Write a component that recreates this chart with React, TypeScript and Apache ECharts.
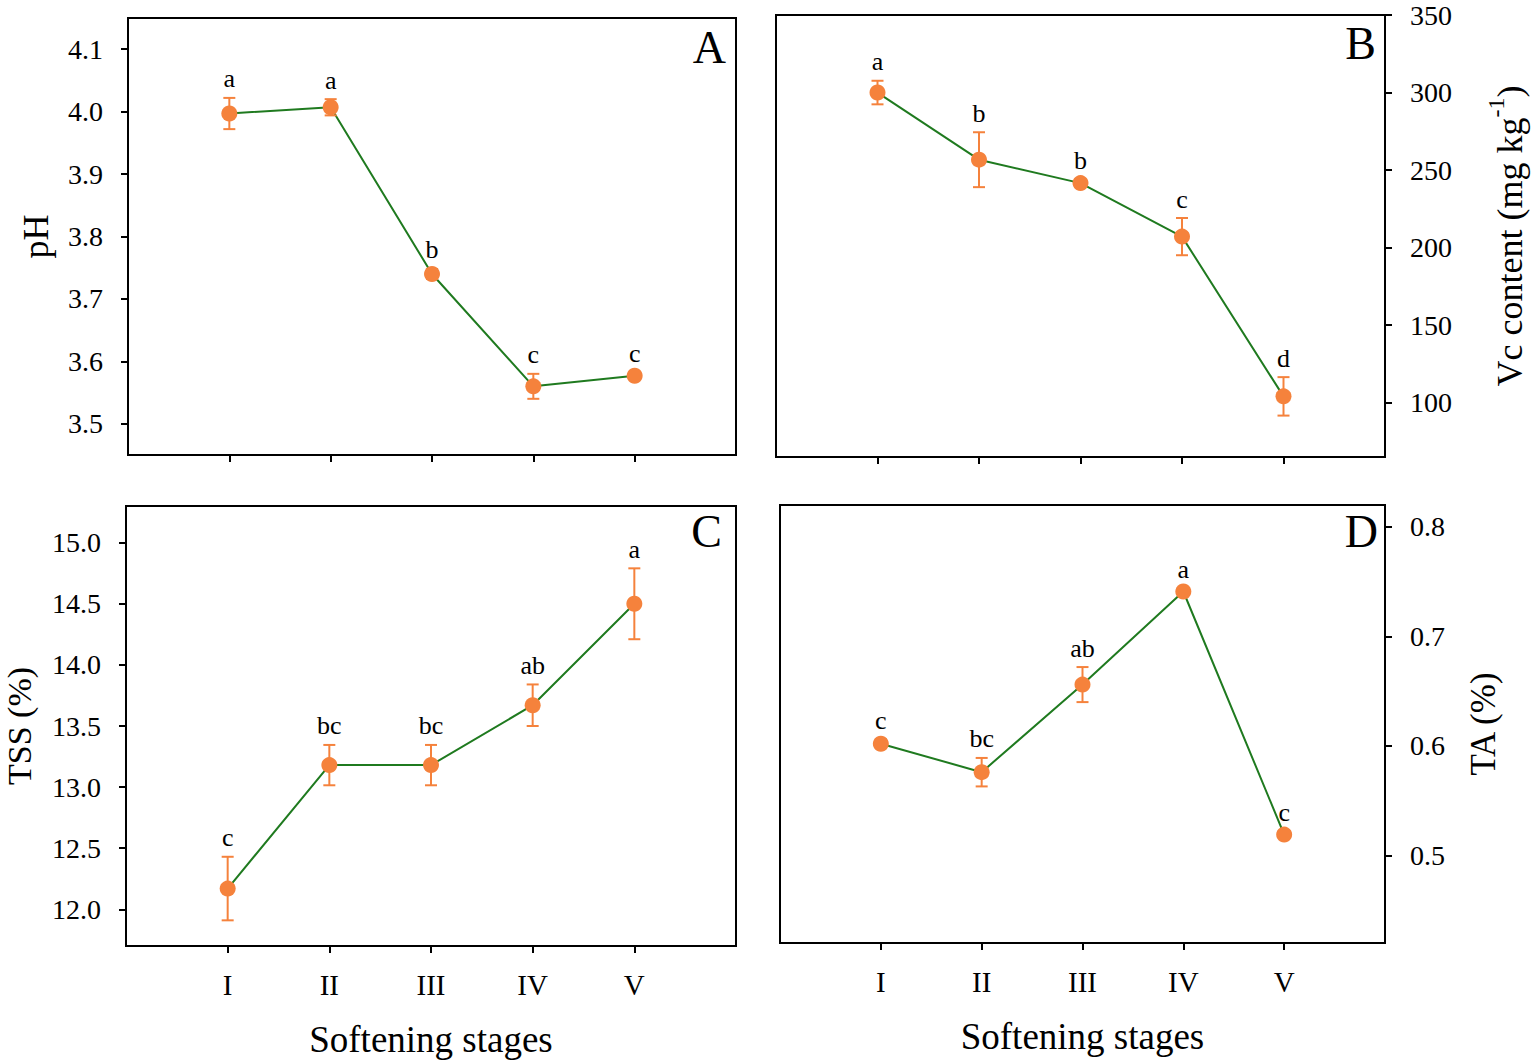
import { useEffect, useRef } from "react"
import * as echarts from "echarts"

// softening stages on the x axis
const stages = ["I", "II", "III", "IV", "V"]
const stagePos = [1, 2, 3, 4, 5]

// A - pH
const phMean = [3.997, 4.007, 3.74, 3.56, 3.577]
const phErr = [0.025, 0.013, 0.008, 0.02, 0.005]
const phLetters = ["a", "a", "b", "c", "c"]
const phTicks = [3.5, 3.6, 3.7, 3.8, 3.9, 4.0, 4.1]

// B - Vc content
const vcMean = [300.0, 256.7, 241.6, 207.1, 104.1]
const vcErr = [7.6, 17.7, 2.5, 12.0, 12.4]
const vcLetters = ["a", "b", "b", "c", "d"]
const vcTicks = [100, 150, 200, 250, 300, 350]

// C - TSS
const tssMean = [12.17, 13.18, 13.18, 13.67, 14.5]
const tssErr = [0.26, 0.165, 0.165, 0.17, 0.29]
const tssLetters = ["c", "bc", "bc", "ab", "a"]
const tssTicks = [12.0, 12.5, 13.0, 13.5, 14.0, 14.5, 15.0]

// D - TA
const taMean = [0.602, 0.576, 0.656, 0.741, 0.519]
const taErr = [0.004, 0.013, 0.016, 0.003, 0.003]
const taLetters = ["c", "bc", "ab", "a", "c"]
const taTicks = [0.5, 0.6, 0.7, 0.8]

const FONT = "'Liberation Serif', 'Times New Roman', serif"
const GREEN = "#1f7a1f"
const ORANGE = "#f5823c"

const panels = [
  { mean: phMean, err: phErr, letters: phLetters, ticks: phTicks, min: 3.45, max: 4.15, digits: 1, side: "left", bottom: false, name: "pH", nameSize: 36, nameGap: 74, tag: "A" },
  { mean: vcMean, err: vcErr, letters: vcLetters, ticks: vcTicks, min: 65, max: 350, digits: 0, side: "right", bottom: false, name: "{a|Vc content (mg kg}{s|-1}{a|)}", nameSize: 36, nameGap: 99, tag: "B" },
  { mean: tssMean, err: tssErr, letters: tssLetters, ticks: tssTicks, min: 11.7, max: 15.3, digits: 1, side: "left", bottom: true, name: "TSS (%)", nameSize: 34, nameGap: 90, tag: "C" },
  { mean: taMean, err: taErr, letters: taLetters, ticks: taTicks, min: 0.42, max: 0.82, digits: 1, side: "right", bottom: true, name: "TA (%)", nameSize: 35, nameGap: 81, tag: "D" },
]

const grids = [
  { left: 128, top: 18, width: 608, height: 437 },
  { left: 776, top: 15, width: 609, height: 442 },
  { left: 126, top: 506, width: 610, height: 440 },
  { left: 780, top: 505, width: 605, height: 438 },
]

export default function App() {
  const chartRef = useRef<HTMLDivElement>(null)

  useEffect(() => {
    if (!chartRef.current) return
    const chart = echarts.init(chartRef.current, null, { renderer: "svg" })

    const xAxis = panels.map((p, i) => ({
      type: "value",
      gridIndex: i,
      min: 0,
      max: 6,
      axisLine: { show: true, onZero: false, lineStyle: { color: "#000", width: 2 } },
      axisTick: { show: true, inside: false, length: 7, customValues: stagePos, lineStyle: { color: "#000", width: 2 } },
      axisLabel: {
        show: p.bottom,
        customValues: stagePos,
        formatter: (v: number) => stages[Math.round(v) - 1] || "",
        fontFamily: FONT,
        fontSize: 29,
        color: "#000",
        margin: 24,
      },
      splitLine: { show: false },
      name: p.bottom ? "Softening stages" : "",
      nameLocation: "middle",
      nameGap: 75,
      nameTextStyle: { fontFamily: FONT, fontSize: 37, color: "#000" },
    }))

    const yAxis = panels.map((p, i) => ({
      type: "value",
      gridIndex: i,
      position: p.side,
      min: p.min,
      max: p.max,
      axisLine: { show: true, onZero: false, lineStyle: { color: "#000", width: 2 } },
      axisTick: { show: true, inside: false, length: 7, customValues: p.ticks, lineStyle: { color: "#000", width: 2 } },
      axisLabel: {
        customValues: p.ticks,
        formatter: (v: number) => v.toFixed(p.digits),
        fontFamily: FONT,
        fontSize: 28,
        color: "#000",
        margin: 25,
      },
      splitLine: { show: false },
      name: p.name,
      nameLocation: "middle",
      nameRotate: 90,
      nameGap: p.nameGap,
      nameTextStyle: {
        fontFamily: FONT,
        fontSize: p.nameSize,
        color: "#000",
        rich: {
          a: { fontFamily: FONT, fontSize: p.nameSize, color: "#000", lineHeight: 44, verticalAlign: "bottom" },
          s: { fontFamily: FONT, fontSize: 24, color: "#000", lineHeight: 24, verticalAlign: "top" },
        },
      },
    }))

    const series: any[] = []
    panels.forEach((p, i) => {
      series.push({
        type: "line",
        xAxisIndex: i,
        yAxisIndex: i,
        data: p.mean.map((m, k) => [stagePos[k], m]),
        showSymbol: false,
        lineStyle: { color: GREEN, width: 2 },
        z: 2,
      })
      series.push({
        type: "custom",
        xAxisIndex: i,
        yAxisIndex: i,
        data: p.mean.map((m, k) => [stagePos[k], m - p.err[k], m + p.err[k]]),
        z: 3,
        renderItem: (params: any, api: any) => {
          const x = api.value(0)
          const top = api.coord([x, api.value(2)])
          const bot = api.coord([x, api.value(1)])
          const w = 6
          const st = { stroke: ORANGE, lineWidth: 2 }
          return {
            type: "group",
            children: [
              { type: "line", shape: { x1: top[0], y1: top[1], x2: bot[0], y2: bot[1] }, style: st },
              { type: "line", shape: { x1: top[0] - w, y1: top[1], x2: top[0] + w, y2: top[1] }, style: st },
              { type: "line", shape: { x1: bot[0] - w, y1: bot[1], x2: bot[0] + w, y2: bot[1] }, style: st },
              {
                type: "text",
                style: {
                  text: p.letters[params.dataIndex],
                  x: top[0],
                  y: top[1] - 19,
                  align: "center",
                  verticalAlign: "middle",
                  fontFamily: FONT,
                  fontSize: 26,
                  fill: "#000",
                },
              },
            ],
          }
        },
      })
      series.push({
        type: "scatter",
        xAxisIndex: i,
        yAxisIndex: i,
        data: p.mean.map((m, k) => [stagePos[k], m]),
        symbol: "circle",
        symbolSize: 16,
        itemStyle: { color: ORANGE, opacity: 1 },
        z: 4,
      })
    })

    const tagPos = [
      [726, 47],
      [1376, 43],
      [722, 531],
      [1378, 531],
    ]

    chart.setOption({
      animation: false,
      backgroundColor: "#fff",
      grid: grids.map((g) => ({ ...g, show: true, borderColor: "#000", borderWidth: 2, backgroundColor: "transparent" })),
      xAxis,
      yAxis,
      series,
      graphic: panels.map((p, i) => ({
        type: "text",
        x: tagPos[i][0],
        y: tagPos[i][1],
        z: 10,
        style: { text: p.tag, align: "right", verticalAlign: "middle", fontFamily: FONT, fontSize: 46, fill: "#000" },
      })),
    })

    return () => {
      chart.dispose()
    }
  }, [])

  return <div ref={chartRef} style={{ position: "absolute", left: 0, top: 0, width: 1535, height: 1064 }} />
}
